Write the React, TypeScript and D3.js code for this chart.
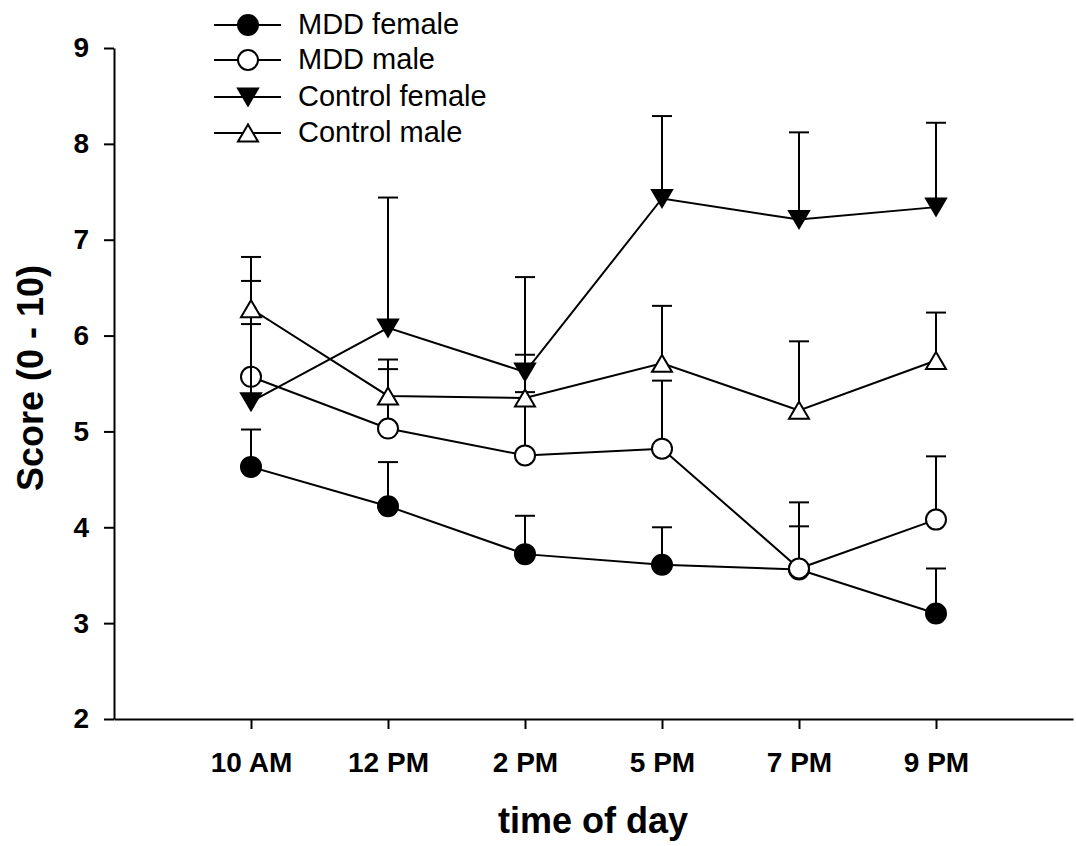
import React, { useEffect, useRef } from "react";
import * as d3 from "d3";

// time points on the x axis
const categories = ["10 AM", "12 PM", "2 PM", "5 PM", "7 PM", "9 PM"];
const yTicks = [2, 3, 4, 5, 6, 7, 8, 9];

// means and upper error bar ends
const mddFemale = [4.63, 4.22, 3.72, 3.61, 3.56, 3.1];
const mddFemaleUpper = [5.02, 4.68, 4.12, 4.0, 4.01, 3.57];
const mddMale = [5.57, 5.03, 4.75, 4.82, 3.57, 4.08];
const mddMaleUpper = [6.12, 5.65, 5.41, 5.53, 4.26, 4.74];
const controlFemale = [5.31, 6.08, 5.62, 7.43, 7.21, 7.34];
const controlFemaleUpper = [6.57, 7.44, 6.61, 8.29, 8.12, 8.22];
const controlMale = [6.28, 5.37, 5.35, 5.71, 5.22, 5.74];
const controlMaleUpper = [6.82, 5.75, 5.8, 6.31, 5.94, 6.24];

const seriesNames = ["MDD female", "MDD male", "Control female", "Control male"];

type Shape = "circle" | "triDown" | "triUp";

const series = [
  { name: seriesNames[0], values: mddFemale, upper: mddFemaleUpper, shape: "circle" as Shape, fill: "#000" },
  { name: seriesNames[1], values: mddMale, upper: mddMaleUpper, shape: "circle" as Shape, fill: "#fff" },
  { name: seriesNames[2], values: controlFemale, upper: controlFemaleUpper, shape: "triDown" as Shape, fill: "#000" },
  { name: seriesNames[3], values: controlMale, upper: controlMaleUpper, shape: "triUp" as Shape, fill: "#fff" },
];

const FONT = "'Liberation Sans', Arial, Helvetica, sans-serif";

const drawMarker = (g: any, shape: Shape, cx: number, cy: number, fill: string) => {
  if (shape === "circle") {
    g.append("circle")
      .attr("cx", cx).attr("cy", cy).attr("r", 10)
      .attr("fill", fill).attr("stroke", "#000").attr("stroke-width", 2);
  } else {
    const hw = 10, hh = 8.5;
    const pts = shape === "triDown"
      ? [[cx - hw, cy - hh], [cx + hw, cy - hh], [cx, cy + hh]]
      : [[cx - hw, cy + hh], [cx + hw, cy + hh], [cx, cy - hh]];
    g.append("path")
      .attr("d", "M" + pts.map(p => p.join(",")).join("L") + "Z")
      .attr("fill", fill).attr("stroke", "#000").attr("stroke-width", 2)
      .attr("stroke-linejoin", "miter");
  }
};

const App = () => {
  const ref = useRef<SVGSVGElement>(null);
  const width = 1076;
  const height = 846;

  useEffect(() => {
    const svg = d3.select(ref.current);
    svg.selectAll("*").remove();

    const x = d3.scaleLinear().domain([0, 7]).range([114, 1073]);
    const y = d3.scaleLinear().domain([2, 9]).range([719, 48]);

    // y axis
    const yAxis = svg.append("g")
      .attr("transform", `translate(${x(0)},0)`)
      .call(d3.axisLeft(y).tickValues(yTicks).tickFormat(d3.format("d")).tickSize(10).tickSizeOuter(0).tickPadding(15));
    yAxis.select(".domain").attr("stroke-width", 2);
    yAxis.selectAll(".tick line").attr("stroke-width", 2);
    yAxis.selectAll("text")
      .attr("font-family", FONT).attr("font-size", 28).attr("font-weight", "bold").attr("fill", "#000");

    // x axis
    const xAxis = svg.append("g")
      .attr("transform", `translate(0,${y(2)})`)
      .call(d3.axisBottom(x).tickValues(categories.map((_, i) => i + 1))
        .tickFormat((d: any) => categories[d - 1]).tickSize(10).tickSizeOuter(0).tickPadding(23));
    xAxis.select(".domain").attr("stroke-width", 2);
    xAxis.selectAll(".tick line").attr("stroke-width", 2);
    xAxis.selectAll("text")
      .attr("font-family", FONT).attr("font-size", 28).attr("font-weight", "bold").attr("fill", "#000");

    // axis titles
    svg.append("text")
      .attr("x", 593).attr("y", 833)
      .attr("text-anchor", "middle")
      .attr("font-family", FONT).attr("font-size", 36).attr("font-weight", "bold")
      .text("time of day");
    svg.append("text")
      .attr("transform", "translate(43,378) rotate(-90)")
      .attr("text-anchor", "middle")
      .attr("font-family", FONT).attr("font-size", 36).attr("font-weight", "bold")
      .text("Score (0 - 10)");

    const line = d3.line<number>()
      .x((_, i) => x(i + 1))
      .y(d => y(d));

    series.forEach(s => {
      const g = svg.append("g");
      // error bars (upper only)
      s.values.forEach((v, i) => {
        const cx = x(i + 1);
        g.append("line")
          .attr("x1", cx).attr("x2", cx).attr("y1", y(v)).attr("y2", y(s.upper[i]))
          .attr("stroke", "#000").attr("stroke-width", 2);
        g.append("line")
          .attr("x1", cx - 10).attr("x2", cx + 10).attr("y1", y(s.upper[i])).attr("y2", y(s.upper[i]))
          .attr("stroke", "#000").attr("stroke-width", 2);
      });
      g.append("path")
        .attr("d", line(s.values))
        .attr("fill", "none").attr("stroke", "#000").attr("stroke-width", 2);
      s.values.forEach((v, i) => drawMarker(g, s.shape, x(i + 1), y(v), s.fill));
    });

    // legend
    const legendRows = [25, 60, 97, 133];
    const legend = svg.append("g");
    series.forEach((s, i) => {
      const ry = legendRows[i];
      legend.append("line")
        .attr("x1", 214).attr("x2", 281).attr("y1", ry).attr("y2", ry)
        .attr("stroke", "#000").attr("stroke-width", 2);
      drawMarker(legend, s.shape, 248, ry, s.fill);
      legend.append("text")
        .attr("x", 298).attr("y", ry + 9)
        .attr("font-family", FONT).attr("font-size", 29)
        .text(s.name);
    });
  }, []);

  return (
    <svg ref={ref} width={width} height={height}
      style={{ position: "absolute", left: 0, top: 0, background: "#fff" }} />
  );
};

export default App;
